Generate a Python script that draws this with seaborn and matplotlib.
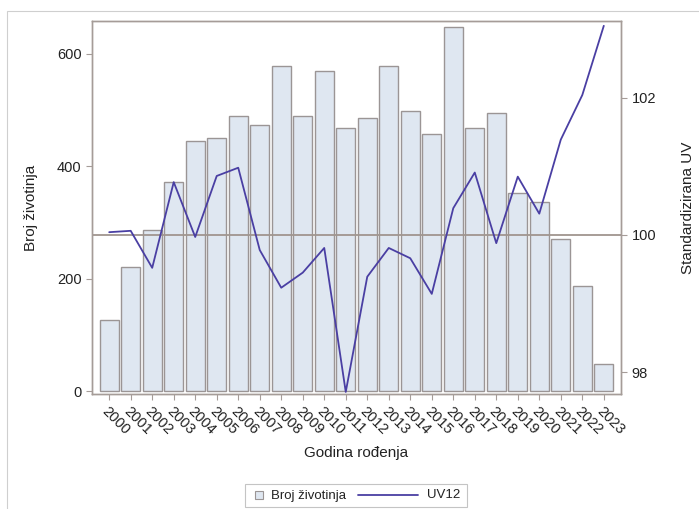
import numpy as np
import pandas as pd
import matplotlib
matplotlib.use("Agg")
import matplotlib.pyplot as plt
import seaborn as sns
from matplotlib.patches import Rectangle
from matplotlib.lines import Line2D

years = [str(y) for y in range(2000, 2024)]
broj_zivotinja = [126, 220, 286, 372, 444, 450, 489, 473, 578, 489, 569, 467,
                  485, 578, 498, 457, 647, 467, 494, 352, 336, 270, 187, 48]
uv12 = [100.04, 100.06, 99.52, 100.77, 99.97, 100.86, 100.98, 99.78, 99.23, 99.45,
        99.81, 97.71, 99.39, 99.81, 99.66, 99.14, 100.39, 100.91, 99.88, 100.85,
        100.31, 101.39, 102.04, 103.05]

df = pd.DataFrame({"godina": years, "broj": broj_zivotinja, "uv": uv12})
df["pos"] = np.arange(len(df))

sns.set_theme(style="white")
plt.rcParams["font.family"] = ["Liberation Sans", "DejaVu Sans"]

W, H = 699, 509
frame_col = "#a59c98"
bar_fill = "#dfe7f1"
bar_edge = "#9b9595"
line_col = "#4a3fa3"
text_col = "#222222"

fig = plt.figure(figsize=(W / 100, H / 100), dpi=100)
ax = fig.add_axes([92 / W, 1 - 394 / H, (621 - 92) / W, (394 - 21) / H])

sns.barplot(data=df, x="godina", y="broj", ax=ax, color=bar_fill,
            edgecolor=bar_edge, linewidth=1.0, width=0.88, saturation=1)
ax.set_xlim(-0.8, 23.8)
ax.set_ylim(-5, 658)
ax.set_yticks([0, 200, 400, 600])
ax.set_ylabel("Broj životinja", fontsize=11, color=text_col, labelpad=14)
ax.set_xlabel("Godina rođenja", fontsize=11, color=text_col, labelpad=6)
ax.set_xticks(df["pos"])
ax.set_xticklabels(years, rotation=-45, ha="left", rotation_mode="anchor",
                   fontsize=10.5, color=text_col)
ax.tick_params(axis="y", labelsize=10.5, labelcolor=text_col)
ax.tick_params(axis="both", which="major", direction="out", length=4,
               width=0.8, color=frame_col, bottom=True, left=True)

ax2 = ax.twinx()
ax2.axhline(100, color="#a0958f", linewidth=1.3, zorder=1)
sns.lineplot(data=df, x="pos", y="uv", ax=ax2, color=line_col, linewidth=1.3,
             legend=False)
ax2.set_xlim(-0.8, 23.8)
ax2.set_ylim(97.68, 103.12)
ax2.set_yticks([98, 100, 102])
ax2.set_ylabel("Standardizirana UV", fontsize=11, color=text_col, labelpad=18)
ax2.tick_params(axis="y", labelsize=10.5, labelcolor=text_col, direction="out",
                length=4, width=0.8, color=frame_col, right=True)

for a in (ax, ax2):
    for s in a.spines.values():
        s.set_color(frame_col)
        s.set_linewidth(1.0)


def px(x, y):
    """Pixel position (from top-left) to figure fraction."""
    return x / W, 1 - y / H


# legend box at the bottom
lx0, ly0 = px(245, 507)
lx1, ly1 = px(467, 484)
fig.add_artist(Rectangle((lx0, ly0), lx1 - lx0, ly1 - ly0,
                         transform=fig.transFigure, facecolor="white",
                         edgecolor="#c4c4c4", linewidth=0.8))
sx, sy = px(255, 499)
fig.add_artist(Rectangle((sx, sy), 8 / W, 8 / H, transform=fig.transFigure,
                         facecolor=bar_fill, edgecolor=bar_edge, linewidth=0.8))
tx, ty = px(271, 495.5)
fig.text(tx, ty, "Broj životinja", fontsize=9.5, color=text_col,
         ha="left", va="center")
l0x, lyy = px(358, 495)
l1x, _ = px(418, 495)
fig.add_artist(Line2D([l0x, l1x], [lyy, lyy], transform=fig.transFigure,
                      color=line_col, linewidth=1.3))
ux, uy = px(427, 495.5)
fig.text(ux, uy, "UV12", fontsize=9.5, color=text_col, ha="left", va="center")

# outer border of the graphic
bx0, by0 = px(7, 515)
bx1, by1 = px(705, 11)
fig.add_artist(Rectangle((bx0, by0), bx1 - bx0, by1 - by0,
                         transform=fig.transFigure, fill=False,
                         edgecolor="#cfcfcf", linewidth=0.8))

fig.savefig("out.png", dpi=100)
